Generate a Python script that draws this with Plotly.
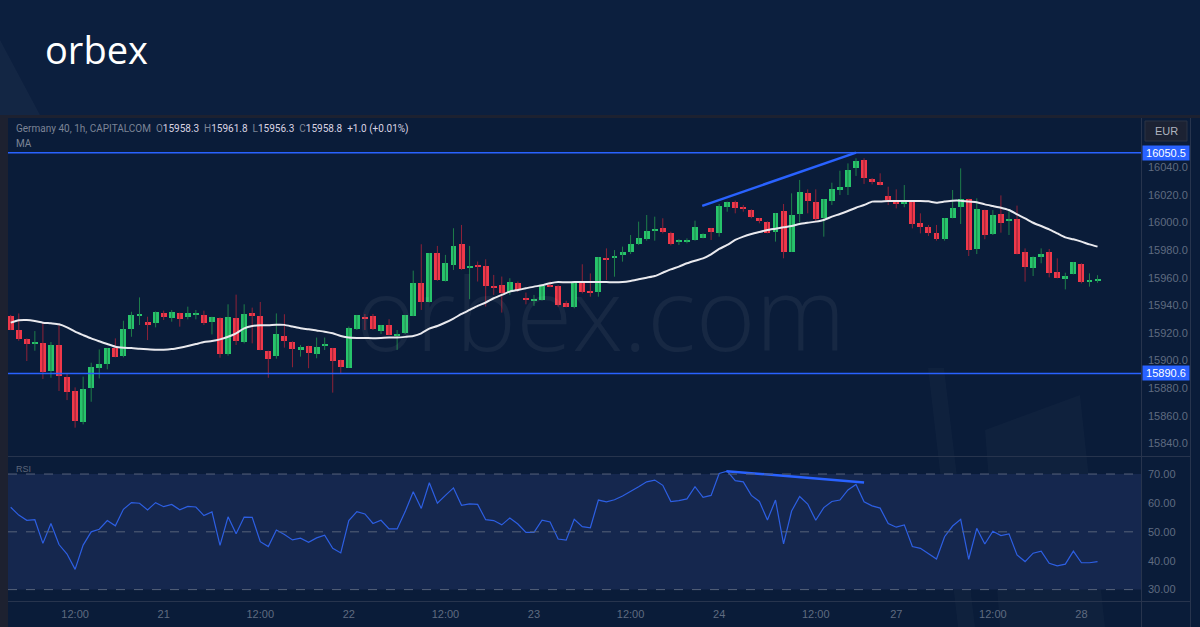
import plotly.graph_objects as go

W, H = 1200, 627

# ---------------- data ----------------
opens = [15932.2, 15922.1, 15915.5, 15912.5, 15912.6, 15892.4, 15911.2, 15888.0, 15878.1, 15855.6,
         15879.8, 15894.8, 15897.7, 15909.0, 15903.2, 15922.6, 15932.5, 15928.1, 15926.9, 15934.4,
         15931.0, 15934.4, 15931.7, 15933.2, 15933.2, 15927.9, 15931.0, 15904.7, 15931.0, 15913.4,
         15934.4, 15932.5, 15906.9, 15903.2, 15917.6, 15913.7, 15907.6, 15910.5, 15904.8, 15911.0,
         15908.9, 15900.4, 15894.8, 15922.6, 15931.8, 15932.3, 15921.7, 15926.0, 15917.4, 15919.7,
         15932.3, 15956.4, 15942.7, 15977.7, 15957.9, 15969.2, 15984.5, 15967.6, 15969.0, 15968.5,
         15954.0, 15954.8, 15949.9, 15956.0, 15945.1, 15943.2, 15943.9, 15954.8, 15954.0, 15941.4,
         15938.5, 15957.1, 15949.8, 15949.8, 15974.5, 15974.0, 15976.4, 15978.8, 15984.1, 15987.8,
         15994.5, 15995.7, 15992.6, 15986.0, 15985.8, 15987.0, 15989.0, 15995.7, 15992.1, 16011.4,
         16014.8, 16011.0, 16009.0, 16003.0, 16000.6, 15993.3, 16008.3, 15978.8, 16005.9, 16021.6,
         16015.1, 16003.0, 16015.8, 16024.0, 16025.9, 16039.2, 16045.3, 16031.7, 16029.1, 16019.4,
         16015.8, 16013.4, 16014.6, 15999.4, 15996.5, 15992.6, 15987.8, 16003.5, 16011.0, 16017.0,
         15980.5, 16009.0, 15991.6, 16006.1, 16000.8, 16002.7, 15978.3, 15966.7, 15975.2, 15978.3,
         15964.3, 15958.8, 15962.6, 15969.9, 15957.1, 15958.3]
highs = [15933.0, 15934.1, 15916.0, 15921.3, 15927.4, 15913.4, 15926.2, 15890.2, 15880.5, 15888.3,
         15898.4, 15908.0, 15909.0, 15916.0, 15928.8, 15935.3, 15945.7, 15931.7, 15935.5, 15936.1,
         15936.6, 15934.6, 15939.0, 15936.6, 15936.1, 15931.7, 15931.2, 15940.7, 15947.7, 15940.7,
         15938.3, 15942.4, 15907.1, 15934.1, 15933.5, 15913.9, 15911.2, 15910.7, 15916.6, 15916.6,
         15909.1, 15900.6, 15924.6, 15933.0, 15933.7, 15933.7, 15925.7, 15929.9, 15922.1, 15933.0,
         15965.1, 15984.2, 15977.9, 15983.0, 15976.5, 15995.8, 15998.2, 15983.0, 15971.7, 15973.3,
         15962.0, 15960.8, 15959.6, 15957.2, 15949.2, 15947.5, 15954.8, 15957.2, 15954.5, 15943.3,
         15956.1, 15969.7, 15963.1, 15974.9, 15981.2, 15980.0, 15982.5, 15990.9, 16000.6, 16005.4,
         16004.2, 16003.0, 15993.3, 15987.8, 15988.5, 16001.3, 15992.1, 15995.9, 16013.4, 16015.1,
         16015.8, 16012.6, 16009.5, 16003.2, 16000.8, 16006.8, 16013.4, 16021.1, 16030.8, 16024.0,
         16024.0, 16017.0, 16028.8, 16037.5, 16042.8, 16046.5, 16046.5, 16032.2, 16035.6, 16025.9,
         16024.0, 16027.1, 16014.8, 16006.6, 15998.2, 15998.2, 16003.2, 16023.5, 16039.2, 16017.2,
         16017.5, 16009.2, 16009.0, 16019.6, 16009.5, 16012.2, 15981.2, 15975.4, 15981.2, 15980.8,
         15974.0, 15963.6, 15971.3, 15970.4, 15963.1, 15961.8]
lows = [15922.0, 15914.3, 15899.6, 15907.1, 15886.6, 15887.5, 15877.9, 15871.3, 15851.3, 15853.7,
        15870.1, 15887.0, 15893.6, 15902.3, 15902.3, 15917.2, 15925.7, 15914.8, 15924.0, 15929.3,
        15928.1, 15924.5, 15929.8, 15929.8, 15925.7, 15918.9, 15902.0, 15903.5, 15911.2, 15912.4,
        15912.4, 15907.4, 15887.5, 15901.3, 15909.3, 15895.1, 15902.8, 15894.4, 15901.6, 15907.6,
        15876.7, 15890.3, 15894.6, 15922.1, 15922.1, 15922.1, 15919.2, 15918.3, 15907.6, 15919.2,
        15932.1, 15936.6, 15942.0, 15957.7, 15957.2, 15965.6, 15965.6, 15944.4, 15957.2, 15939.1,
        15947.5, 15934.7, 15947.5, 15949.9, 15940.7, 15939.5, 15943.4, 15953.1, 15939.0, 15938.5,
        15937.8, 15948.6, 15946.2, 15946.2, 15958.3, 15960.7, 15971.6, 15977.1, 15983.7, 15986.8,
        15986.8, 15992.1, 15983.4, 15983.7, 15984.9, 15986.8, 15988.5, 15987.3, 15989.7, 16007.8,
        16006.6, 16007.8, 16003.0, 15999.4, 15992.1, 15986.1, 15974.0, 15978.6, 15999.8, 16006.6,
        16000.6, 15989.7, 16012.6, 16019.9, 16019.9, 16033.7, 16027.9, 16027.6, 16026.9, 16012.6,
        16010.2, 16011.0, 15995.7, 15992.1, 15990.2, 15986.8, 15986.8, 16003.0, 15998.9, 15975.7,
        15977.1, 15987.8, 15990.9, 15992.6, 15990.9, 15976.9, 15957.1, 15961.2, 15970.4, 15960.2,
        15959.5, 15951.5, 15962.4, 15955.9, 15953.5, 15956.3]
closes = [15922.1, 15915.8, 15911.7, 15912.8, 15891.4, 15911.0, 15889.0, 15877.4, 15855.9, 15879.3,
          15895.3, 15897.4, 15908.8, 15902.7, 15923.0, 15932.7, 15932.7, 15925.7, 15935.3, 15931.7,
          15934.9, 15929.8, 15934.4, 15933.7, 15927.4, 15931.5, 15904.7, 15931.5, 15914.1, 15933.4,
          15932.5, 15907.6, 15901.3, 15918.9, 15914.2, 15908.1, 15910.1, 15905.2, 15910.1, 15911.5,
          15899.9, 15895.1, 15923.4, 15932.8, 15930.6, 15922.6, 15925.5, 15918.5, 15919.2, 15932.8,
          15956.0, 15942.7, 15977.7, 15958.4, 15970.5, 15983.0, 15966.1, 15968.0, 15968.0, 15954.0,
          15953.1, 15949.2, 15956.9, 15951.1, 15943.9, 15944.4, 15954.0, 15953.5, 15940.2, 15939.0,
          15955.9, 15949.8, 15949.1, 15974.7, 15973.3, 15975.7, 15978.8, 15984.1, 15988.5, 15994.1,
          15995.5, 15992.8, 15984.4, 15986.5, 15987.3, 15996.5, 15991.6, 15992.8, 16012.2, 16014.6,
          16010.2, 16009.5, 16004.2, 16001.0, 15992.6, 16006.6, 15978.8, 16005.4, 16021.8, 16015.8,
          16002.3, 16016.8, 16024.0, 16025.4, 16038.0, 16044.8, 16032.0, 16029.1, 16027.4, 16016.3,
          16013.4, 16015.8, 15998.6, 15997.0, 15992.1, 15987.8, 16003.0, 16010.2, 16016.8, 15980.0,
          16009.5, 15990.9, 16005.2, 15999.8, 16002.3, 15977.1, 15967.5, 15975.2, 15977.1, 15963.6,
          15960.0, 15961.2, 15971.1, 15957.1, 15957.6, 15958.8]
ma_values = [15927.4, 15929.1, 15929.3, 15928.6, 15927.4, 15926.9, 15926.2, 15924.0, 15920.9, 15918.4,
             15916.0, 15913.9, 15911.9, 15910.0, 15909.3, 15909.0, 15908.5, 15908.1, 15907.8, 15907.8,
             15908.3, 15909.3, 15910.5, 15911.9, 15913.4, 15914.1, 15915.3, 15917.2, 15919.7, 15923.3,
             15925.0, 15925.5, 15925.5, 15925.9, 15925.8, 15924.6, 15923.3, 15922.6, 15921.7, 15920.9,
             15919.7, 15917.8, 15916.6, 15916.3, 15916.3, 15916.1, 15916.3, 15916.6, 15916.6, 15917.1,
             15917.8, 15919.7, 15923.1, 15925.0, 15927.5, 15930.4, 15933.7, 15936.6, 15939.5, 15942.0,
             15945.1, 15947.5, 15949.9, 15951.1, 15952.3, 15953.5, 15954.5, 15956.0, 15956.9, 15956.6,
             15956.8, 15956.8, 15956.8, 15956.8, 15956.8, 15956.6, 15956.8, 15957.6, 15958.8, 15960.0,
             15961.2, 15963.6, 15966.0, 15968.0, 15970.4, 15972.3, 15974.0, 15976.9, 15980.8, 15983.7,
             15987.3, 15989.7, 15991.6, 15993.1, 15994.5, 15995.5, 15996.5, 15997.4, 15998.9, 15999.8,
             16000.6, 16001.8, 16004.2, 16006.1, 16008.3, 16010.7, 16012.6, 16015.1, 16015.1, 16015.5,
             16015.5, 16015.5, 16015.5, 16015.5, 16015.3, 16014.3, 16015.1, 16015.8, 16015.8, 16015.1,
             16014.6, 16013.1, 16011.9, 16010.7, 16009.0, 16005.9, 16003.0, 15999.8, 15997.4, 15995.0,
             15992.1, 15989.2, 15987.8, 15986.1, 15984.1, 15982.5]
rsi_values = [58.5, 55.8, 54.0, 54.2, 46.0, 52.9, 45.6, 42.3, 37.0, 45.4,
              50.0, 50.9, 53.9, 52.1, 57.8, 60.1, 59.9, 57.6, 60.1, 58.7,
              59.5, 57.6, 58.8, 58.6, 55.6, 56.9, 45.3, 55.2, 49.3, 55.1,
              55.0, 46.6, 44.9, 50.6, 49.1, 47.2, 47.8, 46.4, 47.9, 48.8,
              44.3, 42.7, 53.9, 57.0, 56.2, 52.9, 54.0, 51.0, 51.0, 57.0,
              63.9, 58.1, 67.0, 59.9, 62.6, 65.2, 59.2, 59.7, 59.5, 54.2,
              53.9, 52.4, 54.8, 52.7, 49.8, 49.8, 54.0, 53.4, 47.5, 47.1,
              54.3, 51.8, 51.4, 61.0, 60.4, 61.1, 62.4, 63.9, 65.6, 67.3,
              67.9, 66.1, 60.5, 60.8, 61.4, 65.6, 61.9, 62.6, 70.2, 71.0,
              67.7, 67.3, 62.6, 60.5, 54.1, 61.0, 45.8, 57.2, 62.2, 59.6,
              54.0, 58.4, 60.5, 61.0, 64.5, 66.4, 60.4, 59.0, 58.2, 52.9,
              51.6, 52.4, 44.9, 44.3, 42.3, 40.6, 48.3, 52.0, 54.3, 40.5,
              51.2, 45.8, 50.2, 48.7, 49.3, 42.0, 39.7, 42.6, 43.3, 39.1,
              38.2, 38.8, 43.3, 39.3, 39.3, 39.7]
time_tick_idx = [8, 19, 31, 42, 54, 65, 77, 88, 100, 110, 122, 133]
time_tick_text = ["12:00", "21", "12:00", "22", "12:00", "23", "12:00", "24", "12:00", "27", "12:00", "28"]
price_ticks = [15840, 15860, 15880, 15900, 15920, 15940, 15960, 15980, 16000, 16020, 16040]
rsi_ticks = [30, 40, 50, 60, 70]
resistance_level = 16050.5
support_level = 15890.6
trend_price_x = [85.9, 105.0]
trend_price_y = [16012.0, 16050.6]
trend_rsi_x = [88.9, 106.0]
trend_rsi_y = [71.0, 67.1]

# ---------------- styling ----------------
UP, DOWN = "#27c46b", "#f0384a"
UP_WICK, DOWN_WICK = "#1e7e4a", "#8e2238"
BLUE = "#2962ff"
AXIS_TXT = "#5f6b80"
FONT = "Liberation Sans, Arial, sans-serif"
HFONT = "Roboto, Liberation Sans, sans-serif"


def fx(x):
    return x / W


def fy(y):
    return 1 - y / H


idx = list(range(len(opens)))
up = [c >= o for o, c in zip(opens, closes)]

fig = go.Figure()

# wicks
for flag, col in ((True, UP_WICK), (False, DOWN_WICK)):
    wx, wy = [], []
    for i, o, h, l, c, u in zip(idx, opens, highs, lows, closes, up):
        if u == flag:
            wx += [i, i, None]
            wy += [l, h, None]
    fig.add_trace(go.Scatter(x=wx, y=wy, mode="lines", line=dict(color=col, width=1),
                             hoverinfo="skip", xaxis="x", yaxis="y"))

# bodies
bases = [min(o, c) for o, c in zip(opens, closes)]
heights = [max(abs(c - o), 0.8) for o, c in zip(opens, closes)]
fig.add_trace(go.Bar(x=idx, y=heights, base=bases, width=0.74,
                     marker=dict(color=[UP if u else DOWN for u in up], line=dict(width=0)),
                     hoverinfo="skip", xaxis="x", yaxis="y"))

# moving average
fig.add_trace(go.Scatter(x=idx, y=ma_values, mode="lines",
                         line=dict(color="#e9e9ee", width=2, shape="spline", smoothing=0.6),
                         hoverinfo="skip", xaxis="x", yaxis="y"))

# trendlines + RSI
fig.add_trace(go.Scatter(x=trend_price_x, y=trend_price_y, mode="lines",
                         line=dict(color=BLUE, width=2.5), hoverinfo="skip", xaxis="x", yaxis="y"))
fig.add_trace(go.Scatter(x=idx, y=rsi_values, mode="lines",
                         line=dict(color="#2d5fe3", width=1.2), hoverinfo="skip", xaxis="x2", yaxis="y2"))
fig.add_trace(go.Scatter(x=trend_rsi_x, y=trend_rsi_y, mode="lines",
                         line=dict(color=BLUE, width=2.5), hoverinfo="skip", xaxis="x2", yaxis="y2"))

x_dom = [fx(8), fx(1141)]
x_rng = [-0.335, 140.4]

shapes = [
    dict(type="rect", xref="paper", yref="paper", x0=0, x1=1, y0=0, y1=fy(115),
         fillcolor="#0a1c39", line_width=0, layer="below"),
    dict(type="rect", xref="paper", yref="paper", x0=0, x1=fx(8), y0=0, y1=fy(115),
         fillcolor="#1d2130", line_width=0, layer="below"),
    dict(type="rect", xref="paper", yref="paper", x0=0, x1=1, y0=fy(118), y1=fy(115),
         fillcolor="#1d2130", line_width=0, layer="below"),
    dict(type="path", xref="paper", yref="paper",
         path=f"M {fx(928)} {fy(368)} L {fx(944)} {fy(368)} L {fx(975)} {fy(627)} L {fx(958)} {fy(627)} Z",
         fillcolor="rgba(255,255,255,0.025)", line_width=0, layer="below"),
    dict(type="path", xref="paper", yref="paper",
         path=f"M {fx(985)} {fy(430)} L {fx(1080)} {fy(395)} L {fx(1105)} {fy(627)} L {fx(1000)} {fy(627)} Z",
         fillcolor="rgba(255,255,255,0.025)", line_width=0, layer="below"),
    dict(type="path", xref="paper", yref="paper",
         path=f"M 0 {fy(40)} L {fx(40)} {fy(115)} L 0 {fy(115)} Z",
         fillcolor="rgba(255,255,255,0.03)", line_width=0, layer="below"),
    dict(type="rect", xref="paper", yref="y2", x0=x_dom[0], x1=x_dom[1], y0=30, y1=70,
         fillcolor="#15274e", line_width=0, layer="below"),
    dict(type="line", xref="paper", yref="paper", x0=fx(8), x1=fx(1190), y0=fy(456.5), y1=fy(456.5),
         line=dict(color="#27344d", width=1)),
    dict(type="line", xref="paper", yref="paper", x0=fx(8), x1=fx(1190), y0=fy(601.5), y1=fy(601.5),
         line=dict(color="#27344d", width=1)),
    dict(type="line", xref="paper", yref="paper", x0=fx(1141.5), x1=fx(1141.5), y0=0, y1=fy(118),
         line=dict(color="#27344d", width=1)),
    dict(type="line", xref="paper", yref="paper", x0=fx(1190.5), x1=fx(1190.5), y0=0, y1=fy(118),
         line=dict(color="#27344d", width=1)),
    dict(type="rect", xref="paper", yref="paper", x0=fx(1145), x1=fx(1187), y0=fy(141), y1=fy(121),
         fillcolor="#1c2233", line=dict(color="#2b3245", width=1)),
    dict(type="line", xref="paper", yref="y", x0=x_dom[0], x1=x_dom[1], y0=resistance_level, y1=resistance_level,
         line=dict(color=BLUE, width=1.6)),
    dict(type="line", xref="paper", yref="y", x0=x_dom[0], x1=x_dom[1], y0=support_level, y1=support_level,
         line=dict(color=BLUE, width=1.6)),
]
for lvl in rsi_ticks[::2]:
    shapes.append(dict(type="line", xref="paper", yref="y2", x0=x_dom[0], x1=x_dom[1], y0=lvl, y1=lvl,
                       line=dict(color="#56627a", width=1, dash="dash")))

gray = "#7c8496"
val = "#d9d3e2"
header = (f"<span style='color:{gray}'>Germany 40, 1h, CAPITALCOM</span>  "
          f"<span style='color:{gray}'>O</span><span style='color:{val}'>{opens[-1]:.1f}</span>  "
          f"<span style='color:{gray}'>H</span><span style='color:{val}'>{highs[-1]:.1f}</span>  "
          f"<span style='color:{gray}'>L</span><span style='color:{val}'>{lows[-1]:.1f}</span>  "
          f"<span style='color:{gray}'>C</span><span style='color:{val}'>{closes[-1]:.1f}</span>  "
          f"<span style='color:{val}'>+1.0 (+0.01%)</span>")

annotations = [
    dict(text=header, xref="paper", yref="paper", x=fx(14), y=fy(129), xanchor="left", yanchor="middle",
         showarrow=False, font=dict(family=HFONT, size=10, color=gray)),
    dict(text="MA", xref="paper", yref="paper", x=fx(14), y=fy(144), xanchor="left", yanchor="middle",
         showarrow=False, font=dict(family=HFONT, size=10, color=gray)),
    dict(text="RSI", xref="paper", yref="paper", x=fx(14), y=fy(469), xanchor="left", yanchor="middle",
         showarrow=False, font=dict(family=FONT, size=9, color="#5d6679")),
    dict(text="EUR", xref="paper", yref="paper", x=fx(1166), y=fy(131), xanchor="center", yanchor="middle",
         showarrow=False, font=dict(family=FONT, size=11, color="#aeb3bf")),
    dict(text=f"{resistance_level:.1f}", xref="paper", yref="y", x=fx(1142), y=resistance_level,
         xanchor="left", yanchor="middle", showarrow=False, bgcolor=BLUE, borderpad=1, width=44,
         font=dict(family=FONT, size=11, color="#ffffff")),
    dict(text=f"{support_level:.1f}", xref="paper", yref="y", x=fx(1142), y=support_level,
         xanchor="left", yanchor="middle", showarrow=False, bgcolor=BLUE, borderpad=1, width=44,
         font=dict(family=FONT, size=11, color="#ffffff")),
    dict(text="orbex", xref="paper", yref="paper", x=fx(43), y=fy(49), xanchor="left", yanchor="middle",
         showarrow=False, font=dict(family="Open Sans, sans-serif", size=38, color="#ffffff", weight=400)),
    dict(text="orbex.com", xref="paper", yref="paper", x=fx(601), y=fy(312), xanchor="center", yanchor="middle",
         showarrow=False, font=dict(family="Open Sans, sans-serif", size=102, color="rgba(255,255,255,0.055)",
                                    weight=300)),
]

fig.update_layout(
    width=W, height=H,
    margin=dict(l=0, r=0, t=0, b=0),
    paper_bgcolor="#0c1f3e",
    plot_bgcolor="rgba(0,0,0,0)",
    showlegend=False,
    hovermode=False,
    bargap=0,
    xaxis=dict(domain=x_dom, range=x_rng, anchor="y", showticklabels=False, showgrid=False,
               zeroline=False, showline=False, fixedrange=True),
    xaxis2=dict(domain=x_dom, range=x_rng, anchor="y2", matches="x", showgrid=False, zeroline=False,
                showline=False, tickmode="array", tickvals=time_tick_idx, ticktext=time_tick_text,
                tickfont=dict(family=FONT, size=11, color=AXIS_TXT), ticks="", ticklabelstandoff=6),
    yaxis=dict(domain=[fy(456), fy(117)], range=[15830.8, 16076.4], anchor="x", side="right",
               showgrid=False, zeroline=False, showline=False, tickmode="array", tickvals=price_ticks,
               tickformat=".1f", ticks="", ticklabelstandoff=6,
               tickfont=dict(family=FONT, size=11, color=AXIS_TXT)),
    yaxis2=dict(domain=[fy(600), fy(457)], range=[26.4, 75.9], anchor="x2", side="right",
                showgrid=False, zeroline=False, showline=False, tickmode="array", tickvals=rsi_ticks,
                tickformat=".2f", ticks="", ticklabelstandoff=6,
                tickfont=dict(family=FONT, size=11, color=AXIS_TXT)),
    shapes=shapes,
    annotations=annotations,
)

fig.write_html("out.html", config={"displayModeBar": False},
               post_script="document.body.style.margin='0px';document.body.style.overflow='hidden';")
